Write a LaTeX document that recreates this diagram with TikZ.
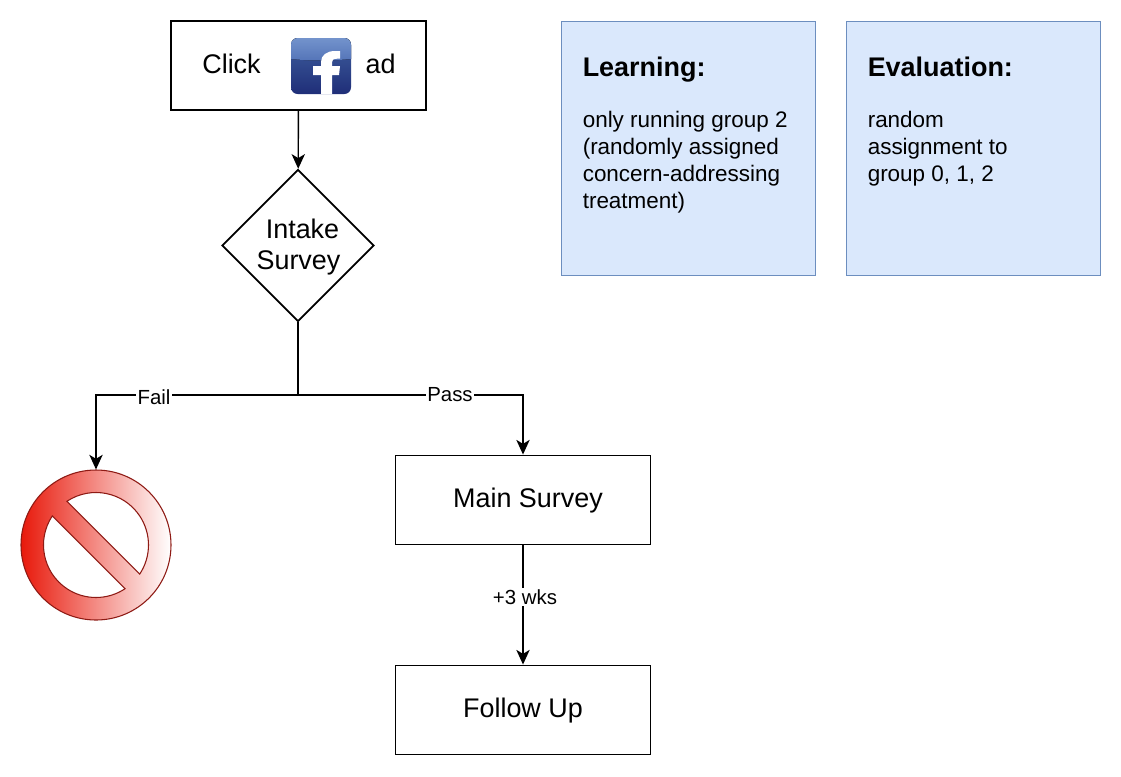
\documentclass[tikz,border=0pt]{standalone}
\usepackage{fontspec}
\setmainfont{Liberation Sans}
\usetikzlibrary{arrows.meta,shapes.geometric,positioning}
\definecolor{bluefill}{HTML}{DAE8FC}
\definecolor{bluedraw}{HTML}{6C8EBF}
\definecolor{nored}{HTML}{E8190B}
\definecolor{nodark}{HTML}{8E1A14}
\definecolor{fbtop}{HTML}{7393CC}
\definecolor{fbgloss}{HTML}{5474B8}
\definecolor{fbmid}{HTML}{40609F}
\definecolor{fbbot}{HTML}{1F2E78}
\tikzset{
  flowbox/.style={draw=black,line width=1.2pt,fill=white,minimum width=191pt,minimum height=67pt,inner sep=0pt},
  decision/.style={draw=black,line width=1.4pt,fill=white,diamond,minimum width=114pt,minimum height=114pt,aspect=1,inner sep=0pt},
  notebox/.style={draw=bluedraw,line width=.9pt,fill=bluefill,minimum width=191pt,minimum height=191pt,inner sep=0pt},
  notehead/.style={anchor=base west,inner sep=0pt,font=\bfseries\fontsize{20.2}{24}\selectfont},
  notebody/.style={anchor=north west,inner sep=0pt,align=left,font=\fontsize{16.85}{20.25}\selectfont},
  boxtext/.style={inner sep=0pt,align=center,font=\fontsize{20.2}{23.25}\selectfont},
  conn/.style={draw=black,line width=1.05pt,-{Stealth[length=11pt,width=10pt,inset=3pt]}},
  plainconn/.style={draw=black,line width=1.05pt},
  edgelabel/.style={fill=white,inner sep=1pt,font=\fontsize{15.3}{18}\selectfont},
  nosign/.style={circle,draw=nodark,line width=.8pt,minimum size=112.5pt,inner sep=0pt,left color=nored,right color=white},
  nohole/.style={draw=nodark,line width=.8pt,fill=white},
  fbicon/.style={rounded corners=5pt,minimum width=45pt,minimum height=42pt,inner sep=0pt,top color=fbmid,bottom color=fbbot},
}
\begin{document}
\begin{tikzpicture}[x=.75pt,y=.75pt,yscale=-1]
\useasboundingbox (0,0) rectangle (1121,776);
% boxes
\node[flowbox] (click) at (298.5,65.5) {};
\node[boxtext] (clicktxt) at (231.5,64) {Click};
\node[boxtext] (adtxt) at (380.5,64) {ad};
\node[decision] (intake) at (298,245.5) {};
\node[boxtext] (intaketxt) at (298.5,247) {\hspace*{6pt}Intake\\Survey};
\coordinate (split) at (298,395);
\coordinate (failcorner) at (96,395);
\coordinate (passcorner) at (523,395);
\node[flowbox] (main) at (523,500) {};
\node[boxtext] (maintxt) at (528,501) {Main Survey};
\node[flowbox] (follow) at (523,710) {};
\node[boxtext] (followtxt) at (523,711) {Follow Up};
\node[nosign] (stop) at (96,545) {};
% no-entry holes
\draw[nohole] (96,545) ++(-123.7:52.5) arc[start angle=-123.7,end angle=33.7,radius=52.5] -- cycle;
\draw[nohole] (96,545) ++(213.7:52.5) arc[start angle=213.7,end angle=56.3,radius=52.5] -- cycle;
% facebook icon
\node[fbicon] (fb) at (321,66) {};
\begin{scope}
  \clip[rounded corners=5pt] (291,38) rectangle (351,94);
  \fill[top color=fbtop,bottom color=fbgloss] (291,38) -- (351,38) -- (351,59) .. controls (331,61) and (311,61) .. (291,59) -- cycle;
  \fill[white] (321,94) -- (321,75) -- (313,75) -- (313,66) -- (321,66) -- (321,62)
     .. controls (321,55) and (327,51) .. (335,51) -- (340,51) -- (340,58.7) -- (337,58.7)
     .. controls (333.5,58.7) and (332,60) .. (332,62) -- (332,66) -- (340,66) -- (339,75) -- (332,75) -- (332,94) -- cycle;
\end{scope}
% notes
\node[notebox] (learn) at (688.5,148.5) {};
\node[notehead] (learnh) at (582.5,76) {Learning:};
\node[notebody] (learnb) at (582.5,110.5) {only running group 2\\(randomly assigned\\concern-addressing\\treatment)};
\node[notebox] (eval) at (973.5,148.5) {};
\node[notehead] (evalh) at (867.5,76) {Evaluation:};
\node[notebody] (evalb) at (867.5,110.5) {random\\assignment to\\group 0, 1, 2};
% connectors
\draw[conn] (click) -- (intake);
\draw[plainconn] (intake) -- (split);
\draw[conn] (split) -- (failcorner) -- (stop);
\draw[conn] (split) -- (passcorner) -- (main);
\draw[conn] (main) -- (follow);
\node[edgelabel] (fail) at (154,397) {Fail};
\node[edgelabel] (pass) at (450,395) {Pass};
\node[edgelabel] (wks) at (525,597) {+3 wks};
\end{tikzpicture}
\end{document}
